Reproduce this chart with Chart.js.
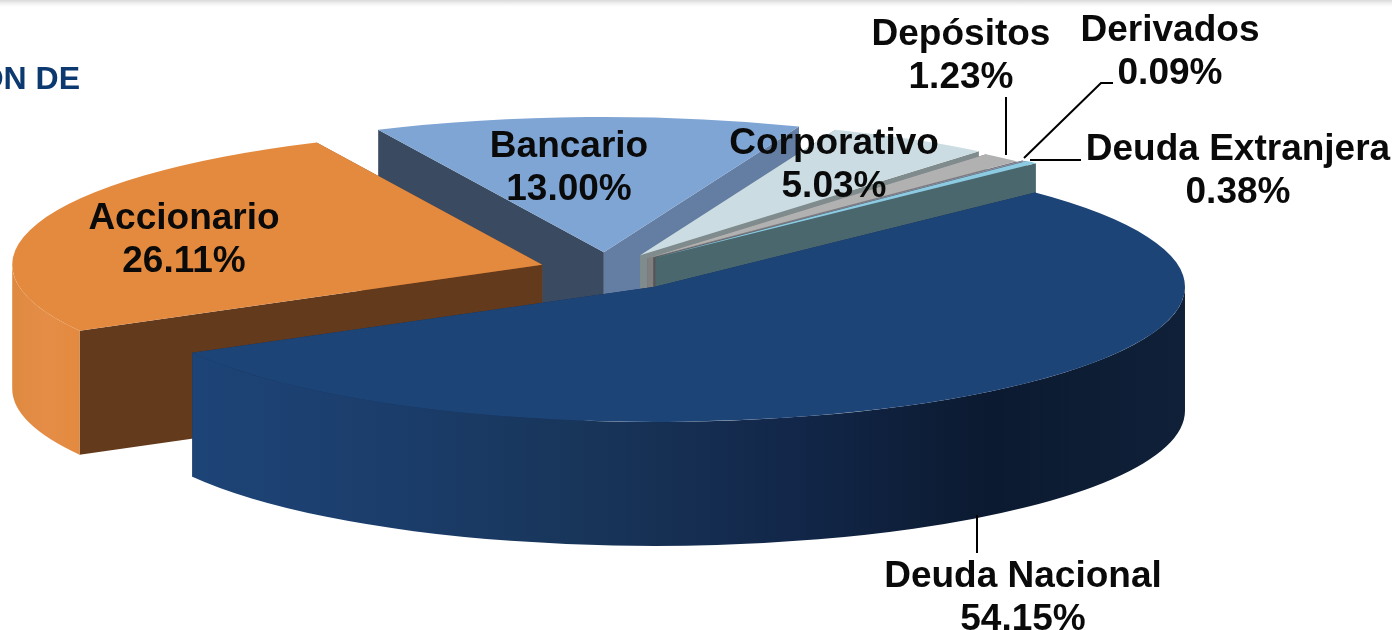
<!DOCTYPE html>
<html>
<head>
<meta charset="utf-8">
<style>
  html, body { margin: 0; padding: 0; }
  body { background: linear-gradient(#d9d9d9, #f4f4f4 4px, #fff 7px) no-repeat; width: 1392px; height: 630px; overflow: hidden; }
  canvas { display: block; }
</style>
<script src="https://cdn.jsdelivr.net/npm/chart.js@4"></script>
</head>
<body>
<canvas id="chart" width="1392" height="630"></canvas>
<script>
// clockwise from the rotation angle
const categories = ['Accionario', 'Bancario', 'Corporativo', 'Depósitos', 'Derivados', 'Deuda Extranjera', 'Deuda Nacional'];
const values = [26.11, 13.00, 5.03, 1.23, 0.09, 0.38, 54.15];

const topColors = ['#e48a3f', '#7fa5d4', '#cbdde2', '#b1b1b1', '#8d8fa8', '#8ccbe2', '#1d4477'];
const startFaceColors = ['#633a1c', '#3a4a60', '#7f8f92', '#6f6f6f', '#555', '#4a6a72', '#152f54'];
const endFaceColors = ['#8a5228', '#637da3', '#7f8b8d', '#7f7f7f', '#555', '#4a676e', '#152f54'];
const wallColors = [
  ['#de8940', '#e58d47', '#e48a3f'],
  ['#7fa5d4'], ['#cbdde2'], ['#b1b1b1'], ['#8d8fa8'], ['#8ccbe2'],
  ['#1d4477', '#1b3d6b', '#183559', '#12274a', '#0b1a30', '#0f2038'],
];
// how far each slice is pulled out of the pie
const explode = [67, 70, 67, 62, 68, 70, 82];

const tilt = 0.255;
const depth = 124;
const pieRadius = 530;

const fontStyle = 'bold 37px "Liberation Sans"';
const labelPos = [[184, 219], [569, 147], [834, 144], [961, 35], [1170, 31], [1238, 150], [1023, 577]];
const leaders = [
  [[1006, 97], [1006, 155]],
  [[1113, 83], [1101, 83], [1024, 158]],
  [[1081, 160], [1030, 160]],
  [[977, 515], [977, 553]],
];

function extrude(ctx, arc, i, originY) {
  const cx = arc.x;
  const cy = originY + (arc.y - originY) * tilt;
  const r = arc.outerRadius;
  const at = a => [cx + Math.cos(a) * r, cy + Math.sin(a) * r * tilt];

  // upper cut face first, the lower one can overlap it
  const faces = [[arc.startAngle, startFaceColors[i]], [arc.endAngle, endFaceColors[i]]];
  faces.sort((a, b) => at(a[0])[1] - at(b[0])[1]);
  faces.forEach(([a, color]) => {
    const [px, py] = at(a);
    ctx.beginPath();
    ctx.moveTo(cx, cy);
    ctx.lineTo(px, py);
    ctx.lineTo(px, py + depth);
    ctx.lineTo(cx, cy + depth);
    ctx.closePath();
    ctx.fillStyle = color;
    ctx.fill();
  });

  // the outer wall only shows on the front half of the ellipse
  const TAU = Math.PI * 2;
  const spans = [];
  for (let k = -1; k <= 1; k++) {
    const a = Math.max(arc.startAngle, k * TAU);
    const b = Math.min(arc.endAngle, k * TAU + Math.PI);
    if (b > a) spans.push([a, b]);
  }
  spans.forEach(([a, b]) => {
    const x0 = at(a)[0], x1 = at(b)[0];
    const g = ctx.createLinearGradient(Math.min(x0, x1), 0, Math.max(x0, x1), 0);
    const stops = wallColors[i];
    stops.forEach((c, n) => g.addColorStop(stops.length > 1 ? n / (stops.length - 1) : 0, c));
    ctx.beginPath();
    ctx.ellipse(cx, cy, r, r * tilt, 0, a, b);
    ctx.ellipse(cx, cy + depth, r, r * tilt, 0, b, a, true);
    ctx.closePath();
    ctx.fillStyle = g;
    ctx.fill();
  });
}

const midAngle = arc => (arc.startAngle + arc.endAngle) / 2;

const pie3d = {
  id: 'pie3d',
  afterDatasetsUpdate(chart) {
    // the arc's own offset option narrows small slices, so move the elements instead
    const {left, right, top, bottom} = chart.chartArea;
    chart.getDatasetMeta(0).data.forEach((arc, i) => {
      arc.x = (left + right) / 2 + Math.cos(midAngle(arc)) * explode[i];
      arc.y = (top + bottom) / 2 + Math.sin(midAngle(arc)) * explode[i];
    });
  },
  beforeDatasetsDraw(chart) {
    const {ctx, chartArea} = chart;
    const originY = (chartArea.top + chartArea.bottom) / 2;
    const arcs = chart.getDatasetMeta(0).data;
    // back slices first
    const order = arcs.map((_, i) => i).sort((a, b) => Math.sin(midAngle(arcs[a])) - Math.sin(midAngle(arcs[b])));
    order.forEach(i => extrude(ctx, arcs[i], i, originY));
    ctx.save();
    ctx.translate(0, originY);
    ctx.scale(1, tilt);
    ctx.translate(0, -originY);
  },
  afterDatasetsDraw(chart) {
    chart.ctx.restore();
  },
  afterDraw(chart) {
    const {ctx} = chart;
    ctx.save();
    ctx.strokeStyle = '#000';
    ctx.lineWidth = 2;
    leaders.forEach(pts => {
      ctx.beginPath();
      pts.forEach(([x, y], n) => n ? ctx.lineTo(x, y) : ctx.moveTo(x, y));
      ctx.stroke();
    });
    ctx.fillStyle = '#0a0a0a';
    ctx.font = fontStyle;
    ctx.textAlign = 'center';
    ctx.textBaseline = 'middle';
    categories.forEach((name, i) => {
      const [x, y] = labelPos[i];
      ctx.fillText(name, x, y);
      ctx.fillText(values[i].toFixed(2) + '%', x, y + 43);
    });
    ctx.fillStyle = '#0c3a70';
    ctx.font = 'bold 32px "Liberation Sans"';
    ctx.textAlign = 'right';
    ctx.fillText('ON DE', 80, 80);
    ctx.restore();
  },
};

new Chart(document.getElementById('chart'), {
  type: 'pie',
  data: {
    labels: categories,
    datasets: [{
      data: values,
      backgroundColor: topColors,
      borderWidth: 0,
      clip: false,
    }],
  },
  options: {
    responsive: false,
    animation: false,
    rotation: 240.8,
    radius: pieRadius,
    layout: {padding: {right: 180, bottom: 90}},
    events: [],
    plugins: {legend: {display: false}, tooltip: {enabled: false}},
  },
  plugins: [pie3d],
});
</script>
</body>
</html>
